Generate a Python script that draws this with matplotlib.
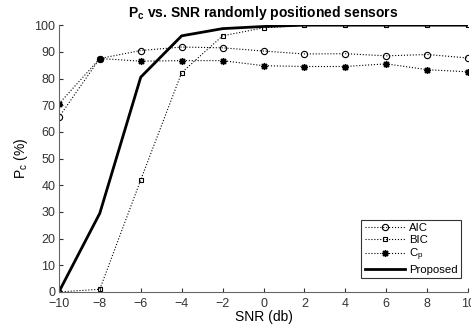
import numpy as np
import matplotlib
matplotlib.use('Agg')
import matplotlib.pyplot as plt

plt.rcParams['font.family'] = ['Liberation Sans', 'DejaVu Sans']

snr = [-10, -8, -6, -4, -2, 0, 2, 4, 6, 8, 10]
aic = [65.5, 87.5, 90.5, 91.8, 91.5, 90.3, 89.2, 89.3, 88.5, 89.0, 87.7]
bic = [0.0, 1.0, 42.0, 82.2, 96.0, 99.0, 100, 100, 100, 100, 100]
cp = [70.5, 87.5, 86.5, 86.7, 86.7, 84.8, 84.5, 84.5, 85.5, 83.3, 82.5]
proposed = [0.0, 29.5, 80.5, 96.0, 98.7, 99.5, 100, 100, 100, 100, 100]

fig = plt.figure(figsize=(4.71, 3.31), dpi=100)
ax = fig.add_axes([0.125, 0.118, 0.869, 0.806])

ax.plot(snr, aic, 'k:', marker='o', markersize=4.5, markerfacecolor='none', markeredgewidth=0.8,
        linewidth=0.8, label='AIC')
ax.plot(snr, bic, 'k:', marker='s', markersize=3.5, markerfacecolor='none', markeredgewidth=0.8,
        linewidth=0.8, label='BIC')
ax.plot(snr, cp, 'k:', marker=(8, 2, 0), markersize=5, markeredgewidth=1.0,
        linewidth=0.8, label='C$_\\mathregular{p}$')
ax.plot(snr, proposed, 'k-', linewidth=2, label='Proposed')

ax.set_xlim(-10, 10)
ax.set_ylim(0, 100)
ax.set_xticks(snr)
ax.set_yticks(np.arange(0, 101, 10))
ax.tick_params(direction='in', labelsize=9, length=3, colors='#333333')
ax.tick_params(axis='x', pad=4.5)
ax.tick_params(axis='y', pad=2.5)
for s in ['top', 'right']:
    ax.spines[s].set_visible(False)
for s in ['left', 'bottom']:
    ax.spines[s].set_color('#666666')

ax.set_xlabel('SNR (db)', fontsize=10, labelpad=0)
ax.set_ylabel('P$_\\mathregular{c}$ (%)', fontsize=10, labelpad=3)
ax.set_title('P$_\\mathregular{c}$ vs. SNR randomly positioned sensors', fontsize=10, fontweight='bold', pad=6)

leg = ax.legend(loc='lower right', fontsize=8.2, handlelength=3.5, frameon=True, fancybox=False,
                edgecolor='black', borderpad=0.3, labelspacing=0.15, handletextpad=0.4,
                bbox_to_anchor=(0.997, 0.03))
leg.get_frame().set_linewidth(0.8)

fig.savefig('out.png', dpi=100)
